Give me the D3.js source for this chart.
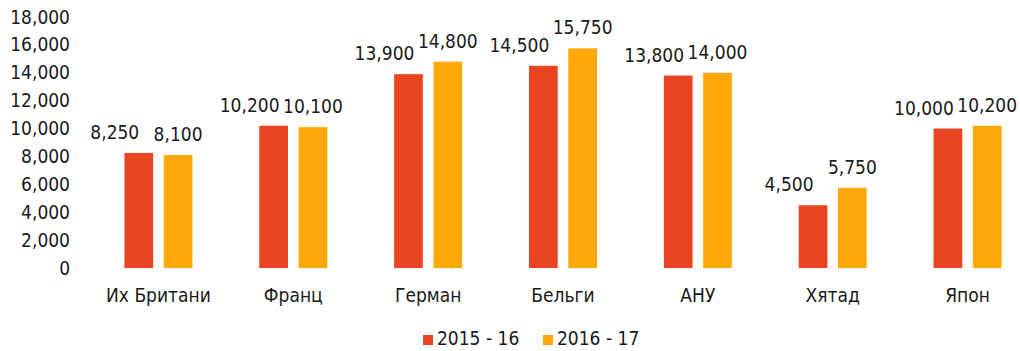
<!DOCTYPE html>
<html>
<head>
<meta charset="utf-8">
<script src="https://cdn.jsdelivr.net/npm/d3@7"></script>
<style>
  html, body { margin: 0; padding: 0; background: #fff; }
  svg { display: block; }
  text { font-family: "DejaVu Sans Condensed", "DejaVu Sans", sans-serif; font-stretch: condensed; fill: #1a1a1a; }
</style>
</head>
<body>
<svg id="chart" width="1020" height="351"></svg>
<script>
// Countries and the two yearly series
const categories = ["Их Британи", "Франц", "Герман", "Бельги", "АНУ", "Хятад", "Япон"];
const seriesNames = ["2015 - 16", "2016 - 17"];
const values2015 = [8250, 10200, 13900, 14500, 13800, 4500, 10000];
const values2016 = [8100, 10100, 14800, 15750, 14000, 5750, 10200];
const yTicks = [0, 2000, 4000, 6000, 8000, 10000, 12000, 14000, 16000, 18000];
const colors = ["#E9441F", "#FFA806"];

const svg = d3.select("#chart");
const fmt = d3.format(",");

const x = d3.scaleBand()
  .domain(categories)
  .range([91, 1035])
  .paddingInner(0)
  .paddingOuter(0);

const x1 = d3.scaleBand()
  .domain(seriesNames)
  .range([x.bandwidth() / 2 - 34, x.bandwidth() / 2 + 34])
  .paddingInner(0.27);

const y = d3.scaleLinear()
  .domain([0, 18000])
  .range([268, 17]);

// Y axis: labels only
const yAxis = d3.axisLeft(y)
  .tickValues(yTicks)
  .tickFormat(fmt)
  .tickSize(0)
  .tickPadding(0);
const yg = svg.append("g").attr("transform", "translate(70,0)").call(yAxis);
yg.select(".domain").remove();
yg.selectAll("text")
  .attr("font-size", 19)
  .attr("font-family", null)
  .attr("fill", "#1a1a1a");

// X axis: category labels only
const xAxis = d3.axisBottom(x).tickSize(0).tickPadding(0);
const xg = svg.append("g").attr("transform", "translate(0,288)").call(xAxis);
xg.select(".domain").remove();
xg.selectAll("text")
  .attr("font-size", 19)
  .attr("font-family", null)
  .attr("fill", "#1a1a1a")
  .attr("dy", "0.76em");

const rows = categories.map((c, i) => ({ c, vals: [values2015[i], values2016[i]] }));

const groups = svg.append("g").selectAll("g")
  .data(rows)
  .join("g")
  .attr("transform", d => `translate(${x(d.c)},0)`);

groups.selectAll("rect")
  .data(d => d.vals.map((v, k) => ({ v, k })))
  .join("rect")
  .attr("x", d => x1(seriesNames[d.k]))
  .attr("width", x1.bandwidth())
  .attr("y", d => y(d.v))
  .attr("height", d => y(0) - y(d.v))
  .attr("fill", d => colors[d.k]);

// Value labels: first series shifted left, second centred
groups.selectAll("text.val")
  .data(d => d.vals.map((v, k) => ({ v, k })))
  .join("text")
  .attr("class", "val")
  .attr("x", d => x1(seriesNames[d.k]) + x1.bandwidth() / 2 + (d.k === 0 ? -24 : 0))
  .attr("y", d => y(d.v) - 14)
  .attr("text-anchor", "middle")
  .attr("font-size", 19)
  .text(d => fmt(d.v));

// Legend
const legend = svg.append("g").attr("transform", "translate(423,345)");
const legendX = [0, 120];
seriesNames.forEach((name, k) => {
  const g = legend.append("g").attr("transform", `translate(${legendX[k]},0)`);
  g.append("rect").attr("x", 0).attr("y", -10).attr("width", 10).attr("height", 10).attr("fill", colors[k]);
  g.append("text").attr("x", 14).attr("y", 0).attr("font-size", 19).text(name);
});
</script>
</body>
</html>
